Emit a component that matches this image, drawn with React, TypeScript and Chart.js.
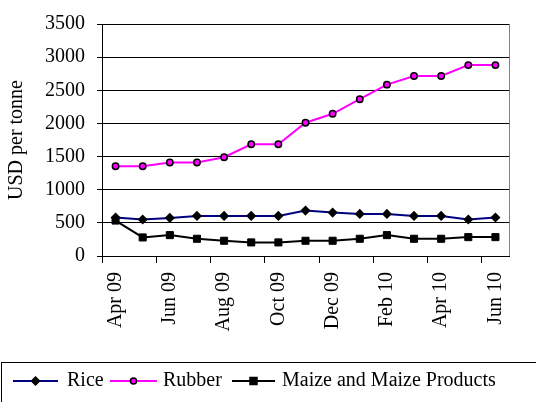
import React, { useEffect, useRef } from 'react';
import { Chart, registerables } from 'chart.js';
Chart.register(...registerables);

const months = ['Apr 09', 'May 09', 'Jun 09', 'Jul 09', 'Aug 09', 'Sep 09', 'Oct 09', 'Nov 09', 'Dec 09', 'Jan 10', 'Feb 10', 'Mar 10', 'Apr 10', 'May 10', 'Jun 10'];
const rice = [580, 550, 575, 605, 605, 605, 605, 685, 655, 635, 635, 605, 605, 550, 580];
const rubber = [1355, 1355, 1410, 1410, 1490, 1685, 1685, 2010, 2145, 2365, 2585, 2715, 2715, 2880, 2880];
const maize = [535, 280, 315, 260, 230, 205, 205, 230, 230, 260, 315, 260, 260, 285, 285];
const yMin = 0;
const yMax = 3500;
const yStep = 500;
const yTitle = 'USD per tonne';

const FONT = '"Liberation Serif", "Times New Roman", serif';

function drawMarker(ctx: CanvasRenderingContext2D, style: string, x: number, y: number, fill: string, stroke: string) {
  ctx.save();
  ctx.fillStyle = fill;
  ctx.strokeStyle = stroke;
  ctx.lineWidth = 1.5;
  ctx.beginPath();
  if (style === 'rectRot') {
    ctx.moveTo(x - 4, y);
    ctx.lineTo(x, y - 4);
    ctx.lineTo(x + 4, y);
    ctx.lineTo(x, y + 4);
    ctx.closePath();
  } else if (style === 'rect') {
    ctx.rect(x - 3.5, y - 3.5, 7, 7);
  } else {
    ctx.arc(x, y, 3, 0, Math.PI * 2);
  }
  ctx.fill();
  ctx.stroke();
  ctx.restore();
}

const framePlugin = {
  id: 'frame',
  beforeDatasetsDraw(chart: any) {
    const { ctx, chartArea } = chart;
    ctx.save();
    ctx.strokeStyle = '#808080';
    ctx.lineWidth = 1;
    ctx.beginPath();
    ctx.moveTo(Math.round(chartArea.right) + 0.5, chartArea.top);
    ctx.lineTo(Math.round(chartArea.right) + 0.5, chartArea.bottom);
    ctx.stroke();
    ctx.restore();
  },
};

const legendPlugin = {
  id: 'boxLegend',
  afterDraw(chart: any) {
    const ctx: CanvasRenderingContext2D = chart.ctx;
    ctx.save();
    ctx.strokeStyle = '#000';
    ctx.lineWidth = 1;
    ctx.strokeRect(1.5, 362.5, 560, 60);
    const y = 381;
    const slots = [
      { x0: 13, x1: 58, text: 67 },
      { x0: 110, x1: 157, text: 163 },
      { x0: 232, x1: 275, text: 282 },
    ];
    chart.data.datasets.forEach((ds: any, i: number) => {
      const s = slots[i];
      ctx.strokeStyle = ds.borderColor;
      ctx.lineWidth = 2;
      ctx.beginPath();
      ctx.moveTo(s.x0, y);
      ctx.lineTo(s.x1, y);
      ctx.stroke();
      drawMarker(ctx, ds.pointStyle, (s.x0 + s.x1) / 2, y, ds.pointBackgroundColor, ds.pointBorderColor);
      ctx.fillStyle = '#000';
      ctx.font = `20px ${FONT}`;
      ctx.textBaseline = 'middle';
      ctx.textAlign = 'left';
      ctx.fillText(ds.label, s.text, y);
    });
    ctx.restore();
  },
};

export default function App() {
  const ref = useRef<HTMLCanvasElement>(null);
  useEffect(() => {
    document.body.style.margin = '0';
    const chart = new Chart(ref.current!, {
      type: 'line',
      data: {
        labels: months,
        datasets: [
          {
            label: 'Rice',
            data: rice,
            borderColor: '#000080',
            borderWidth: 2,
            pointStyle: 'rectRot',
            pointRadius: 4,
            pointBackgroundColor: '#000',
            pointBorderColor: '#000',
            pointBorderWidth: 1.5,
            tension: 0,
          },
          {
            label: 'Rubber',
            data: rubber,
            borderColor: '#FF00FF',
            borderWidth: 2,
            pointStyle: 'circle',
            pointRadius: 3.2,
            pointBackgroundColor: '#FF00FF',
            pointBorderColor: '#000',
            pointBorderWidth: 1.5,
            tension: 0,
          },
          {
            label: 'Maize and Maize Products',
            data: maize,
            borderColor: '#000',
            borderWidth: 2,
            pointStyle: 'rect',
            pointRadius: 5,
            pointBackgroundColor: '#000',
            pointBorderColor: '#000',
            pointBorderWidth: 1,
            tension: 0,
          },
        ],
      },
      options: {
        responsive: false,
        animation: false,
        layout: { padding: { left: 0, right: 27, top: 15, bottom: 66 } },
        plugins: { legend: { display: false }, tooltip: { enabled: false } },
        scales: {
          x: {
            type: 'category',
            offset: true,
            grid: {
              offset: true,
              drawOnChartArea: false,
              drawTicks: true,
              tickLength: 7,
              tickColor: (c: any) => (typeof c.index === 'number' && c.index % 2 === 0 ? '#000' : 'rgba(0,0,0,0)'),
            },
            border: { display: true, color: '#000', width: 1 },
            ticks: {
              autoSkip: false,
              minRotation: 90,
              maxRotation: 90,
              padding: 9,
              color: '#000',
              font: { family: FONT, size: 20 },
              callback: (_v: any, i: number) => (i % 2 === 0 ? months[i] : ''),
            },
            afterFit: (s: any) => {
              s.height = 80;
            },
          },
          y: {
            min: yMin,
            max: yMax,
            grid: { color: '#000', lineWidth: 1, tickLength: 5, tickColor: '#000' },
            border: { display: true, color: '#000', width: 1 },
            ticks: {
              stepSize: yStep,
              padding: 12,
              color: '#000',
              font: { family: FONT, size: 20 },
              callback: (v: any) => String(v),
            },
            title: {
              display: true,
              text: yTitle,
              color: '#000',
              font: { family: FONT, size: 20 },
              padding: { top: 5, bottom: 0 },
            },
            afterFit: (s: any) => {
              s.width = 102;
            },
          },
        },
      },
      plugins: [framePlugin, legendPlugin],
    });
    return () => chart.destroy();
  }, []);
  return (
    <div style={{ width: 536, height: 402 }}>
      <canvas ref={ref} width={536} height={402} style={{ display: 'block' }} />
    </div>
  );
}
